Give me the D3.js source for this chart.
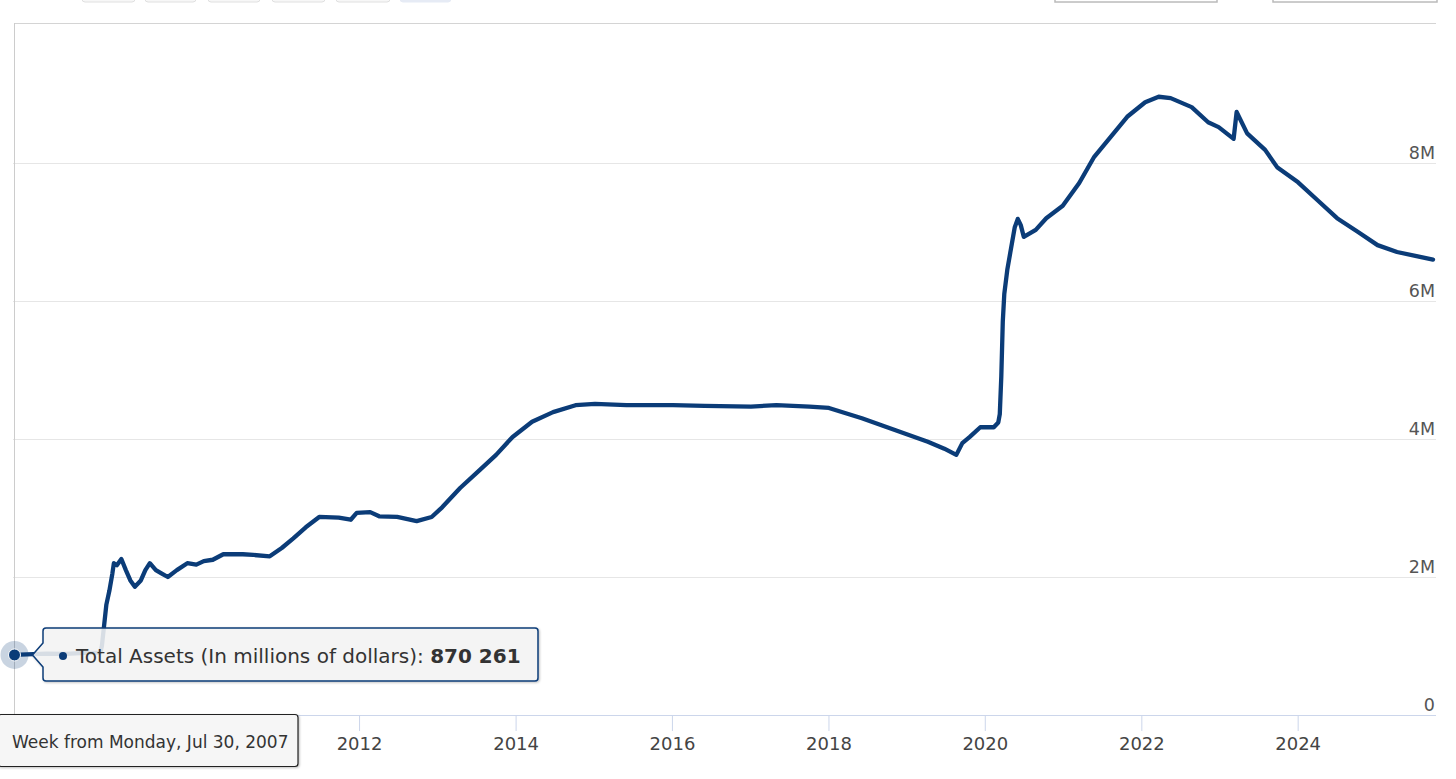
<!DOCTYPE html>
<html><head><meta charset="utf-8">
<script src="https://cdn.jsdelivr.net/npm/d3@7"></script>
<style>body{margin:0;background:#fff;overflow:hidden}svg{display:block}</style>
</head><body>
<svg id="chart" width="1456" height="779"></svg>
<script>
// ---- data (millions of dollars) ----
const dates = ["2007-07-30","2007-10-03","2008-01-02","2008-04-02","2008-07-02","2008-09-10","2008-09-17","2008-09-24","2008-10-08","2008-10-22","2008-11-05","2008-11-12","2008-11-26","2008-12-17","2009-01-07","2009-01-28","2009-02-18","2009-03-18","2009-04-08","2009-04-29","2009-05-27","2009-06-24","2009-07-22","2009-09-02","2009-10-21","2009-12-02","2010-01-06","2010-02-17","2010-04-07","2010-07-07","2010-08-25","2010-11-10","2011-01-05","2011-02-28","2011-04-27","2011-06-29","2011-09-28","2011-11-23","2011-12-21","2012-02-22","2012-04-04","2012-06-27","2012-09-26","2012-12-05","2013-01-23","2013-04-17","2013-07-17","2013-10-02","2013-12-18","2014-03-19","2014-06-25","2014-10-08","2015-01-07","2015-06-03","2016-01-06","2016-06-01","2017-01-04","2017-05-03","2017-10-04","2018-01-03","2018-06-06","2018-11-07","2019-04-10","2019-06-26","2019-08-21","2019-09-18","2019-10-23","2019-12-11","2020-02-12","2020-03-04","2020-03-11","2020-03-18","2020-03-25","2020-04-01","2020-04-15","2020-04-29","2020-05-20","2020-06-03","2020-06-17","2020-07-01","2020-08-26","2020-10-14","2020-12-30","2021-03-17","2021-05-26","2021-08-11","2021-10-27","2022-01-19","2022-03-23","2022-05-18","2022-08-24","2022-11-09","2022-12-28","2023-03-08","2023-03-22","2023-05-10","2023-08-02","2023-09-27","2024-01-03","2024-04-03","2024-07-03","2024-10-09","2025-01-08","2025-04-09","2025-07-09","2025-09-24"];
const values = [870261,880000,890000,885000,900000,905000,1000000,1200000,1600000,1800000,2050000,2200000,2170000,2260000,2100000,1950000,1860000,1950000,2100000,2200000,2100000,2050000,2000000,2100000,2200000,2180000,2230000,2250000,2330000,2330000,2320000,2300000,2420000,2560000,2720000,2870000,2860000,2830000,2930000,2940000,2880000,2870000,2810000,2870000,3010000,3290000,3550000,3770000,4030000,4250000,4390000,4490000,4510000,4490000,4490000,4480000,4470000,4490000,4470000,4450000,4300000,4130000,3960000,3860000,3770000,3940000,4030000,4170000,4170000,4240000,4360000,4900000,5700000,6100000,6450000,6700000,7070000,7190000,7100000,6930000,7030000,7200000,7380000,7710000,8090000,8380000,8670000,8880000,8960000,8940000,8810000,8590000,8520000,8350000,8740000,8430000,8190000,7940000,7720000,7460000,7200000,7000000,6810000,6710000,6650000,6600000];
const yTickValues = [0, 2000000, 4000000, 6000000, 8000000];
const yTickLabels = ["0", "2M", "4M", "6M", "8M"];
const xTickYears = [2012, 2014, 2016, 2018, 2020, 2022, 2024];
const seriesName = "Total Assets (In millions of dollars)";
const hoverIndex = 0;
const hoverValueLabel = "870 261";
const hoverDateLabel = "Week from Monday, Jul 30, 2007";

const COLOR = "#0b3c78";
const FONT = "'DejaVu Sans', sans-serif";
const parse = d3.timeParse("%Y-%m-%d");
const data = dates.map((d, i) => ({date: parse(d), value: values[i]}));

const L = 13, R = 1436, T = 25, B = 715;
const x = d3.scaleTime().domain([parse("2007-07-30"), parse("2025-10-08")]).range([L, R]);
const y = d3.scaleLinear().domain([0, 10000000]).range([B, T]);

const svg = d3.select("#chart");

// top toolbar remnants
const btns = [[82,53],[145,51],[208,52],[272,53],[336,54]];
svg.selectAll("rect.btn").data(btns).enter().append("rect")
  .attr("x", d => d[0]).attr("y", -20).attr("width", d => d[1]).attr("height", 22)
  .attr("rx", 3).attr("fill", "#f7f7f7").attr("stroke", "#e0e0e0");
svg.append("rect").attr("x", 400).attr("y", -20).attr("width", 51).attr("height", 22)
  .attr("rx", 3).attr("fill", "#e6ebf5").attr("stroke", "#e6ebf5");
[[1055,162],[1273,164]].forEach(b => {
  svg.append("rect").attr("x", b[0]).attr("y", -20).attr("width", b[1]).attr("height", 22)
    .attr("fill", "#fff").attr("stroke", "#bbb").attr("stroke-width", 1.5);
});

// plot frame (top)
svg.append("line").attr("x1", L + 1).attr("x2", R).attr("y1", 23.5).attr("y2", 23.5)
  .attr("stroke", "#d4d4d4").attr("stroke-width", 1);

// grid lines
const gridVals = yTickValues.filter(v => v > 0);
svg.append("g").selectAll("line").data(gridVals).enter().append("line")
  .attr("x1", L).attr("x2", R)
  .attr("y1", d => Math.round(y(d)) + 0.5).attr("y2", d => Math.round(y(d)) + 0.5)
  .attr("stroke", "#e6e6e6").attr("stroke-width", 1);

// y labels (right side)
svg.append("g").selectAll("text").data(yTickValues).enter().append("text")
  .attr("x", R - 1).attr("y", d => y(d) - 4)
  .attr("text-anchor", "end").attr("font-family", FONT).attr("font-size", 17.5)
  .attr("fill", "#555").text((d, i) => yTickLabels[i]);

// x axis
const xAxis = d3.axisBottom(x)
  .tickValues(xTickYears.map(yr => new Date(yr, 0, 1)))
  .tickFormat(d3.timeFormat("%Y")).tickSizeOuter(0).tickSize(16).tickPadding(6);
const gx = svg.append("g").attr("transform", `translate(0,${B})`).call(xAxis);
gx.select(".domain").attr("stroke", "#ccd6eb").attr("d", `M${L},0.5H${R}`);
gx.selectAll(".tick line").attr("stroke", "#ccd6eb");
gx.selectAll(".tick text").attr("font-family", FONT).attr("font-size", 18).attr("fill", "#444");

// crosshair at hovered point
const hp = data[hoverIndex];
svg.append("line").attr("x1", 14.5).attr("x2", 14.5).attr("y1", 23).attr("y2", B)
  .attr("stroke", "#cccccc").attr("stroke-width", 1);

// series line
const line = d3.line().x(d => x(d.date)).y(d => y(d.value)).curve(d3.curveLinear);
svg.append("path").datum(data).attr("d", line).attr("fill", "none")
  .attr("stroke", COLOR).attr("stroke-width", 4.3).attr("stroke-linejoin", "round").attr("stroke-linecap", "round");

// hover marker with halo
const hx = x(hp.date) + 1.5, hy = y(hp.value);
svg.append("circle").attr("cx", hx).attr("cy", hy).attr("r", 14).attr("fill", COLOR).attr("fill-opacity", 0.22);
svg.append("circle").attr("cx", hx).attr("cy", hy).attr("r", 6).attr("fill", COLOR).attr("stroke", "#fff").attr("stroke-width", 1);

// shadow filter
const defs = svg.append("defs");
const f = defs.append("filter").attr("id", "sh").attr("x", "-10%").attr("y", "-30%").attr("width", "130%").attr("height", "170%");
f.append("feDropShadow").attr("dx", 1).attr("dy", 1).attr("stdDeviation", 1.2).attr("flood-color", "#000").attr("flood-opacity", 0.25);

// series tooltip (callout pointing left)
const bx = 43, by = 628, bw = 495, bh = 53, r = 3;
const ax = hx + 18;
const path = `M${bx + r},${by} H${bx + bw - r} Q${bx + bw},${by} ${bx + bw},${by + r} V${by + bh - r} Q${bx + bw},${by + bh} ${bx + bw - r},${by + bh} H${bx + r} Q${bx},${by + bh} ${bx},${by + bh - r} V${hy + 12} L${ax},${hy} L${bx},${hy - 12} V${by + r} Q${bx},${by} ${bx + r},${by} Z`;
svg.append("path").attr("d", path).attr("fill", "rgba(247,247,247,0.85)")
  .attr("stroke", COLOR).attr("stroke-width", 1.5).attr("filter", "url(#sh)");
svg.append("circle").attr("cx", 63).attr("cy", hy + 1).attr("r", 4).attr("fill", COLOR);
const tt = svg.append("text").attr("x", 76).attr("y", hy + 8).attr("font-family", FONT)
  .attr("font-size", 20).attr("fill", "#333");
tt.append("tspan").text(seriesName + ": ");
tt.append("tspan").attr("font-weight", "bold").text(hoverValueLabel);

// date tooltip at bottom
svg.append("rect").attr("x", -2).attr("y", 714.5).attr("width", 300).attr("height", 52).attr("rx", 3)
  .attr("fill", "rgba(247,247,247,0.95)").attr("stroke", "#222").attr("stroke-width", 1.2).attr("filter", "url(#sh)");
svg.append("text").attr("x", 12).attr("y", 748).attr("font-family", FONT).attr("font-size", 17)
  .attr("fill", "#333").text(hoverDateLabel);
</script>
</body></html>
